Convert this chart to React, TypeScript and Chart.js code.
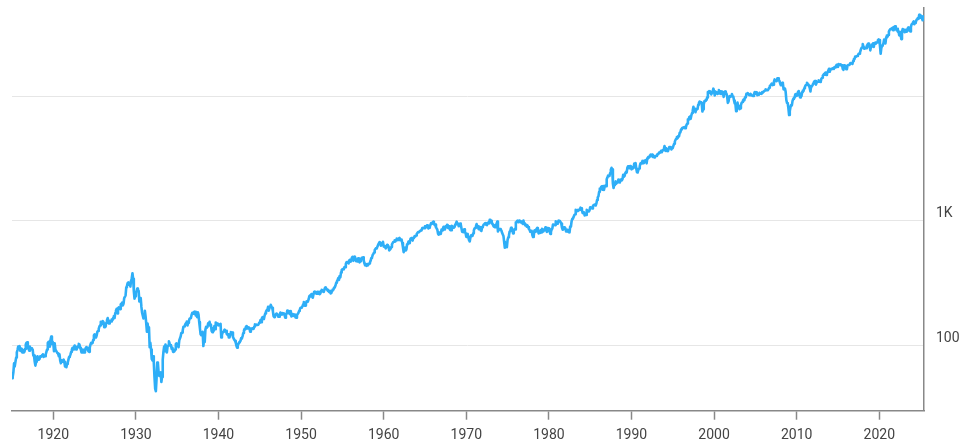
import React, { useEffect, useRef } from "react";
import { Chart, registerables } from "chart.js";

Chart.register(...registerables);

// Monthly closes, starting January 1915
const startYear = 1915;
const xTickYears = [1920, 1930, 1940, 1950, 1960, 1970, 1980, 1990, 2000, 2010, 2020];
const yTickValues = [100, 1000, 10000];
const yTickLabels = ["100", "1K", ""];

const dow1910s = [
  54.6, 56, 61, 72, 68, 74, 80, 88, 92, 98, 97, 99,
  90.6, 91.6, 94.5, 88, 91.8, 88, 89, 93.8, 102, 105, 105.9, 95,
  95, 91, 98, 93, 95, 94, 93, 83, 83, 74, 69, 74,
  79, 82, 77, 79, 78, 82, 81, 82, 84, 85, 81, 82,
  82, 85, 89, 93, 105, 107, 107, 98, 111, 118, 103, 107,
];
const dow1920s = [
  104, 90, 104, 93, 91, 91, 87, 86, 82, 85, 76, 72,
  76, 74, 75, 77, 74, 68, 68, 67, 71, 73, 77, 81,
  82, 85, 89, 93, 96, 93, 97, 100, 97, 93, 94, 98,
  97, 103, 102, 96, 93, 88, 88, 93, 88, 88, 92, 95,
  97, 96, 92, 90, 89, 96, 102, 105, 104, 105, 111, 121,
  123, 121, 116, 120, 129, 131, 136, 142, 145, 155, 148, 156,
  157, 154, 140, 143, 142, 152, 160, 166, 158, 150, 157, 157,
  156, 162, 160, 167, 172, 166, 182, 190, 197, 181, 198, 202,
  199, 196, 214, 216, 221, 210, 216, 240, 240, 252, 293, 300,
  317, 321, 308, 320, 297, 333, 347, 380, 343, 273, 238, 248,
];
const dow1930s = [
  267, 272, 286, 279, 275, 226, 233, 240, 204, 183, 183, 165,
  168, 190, 172, 151, 129, 150, 136, 140, 97, 105, 93, 78,
  76, 82, 73, 56, 45, 43, 54, 73, 72, 61, 57, 60,
  61, 51, 56, 77, 89, 98, 90, 102, 94, 88, 98, 100,
  108, 104, 101, 100, 94, 96, 89, 93, 90, 93, 103, 104,
  102, 101, 97, 110, 110, 118, 126, 127, 132, 141, 142, 144,
  149, 152, 156, 145, 152, 157, 164, 166, 167, 177, 183, 180,
  185, 187, 186, 174, 175, 169, 185, 177, 154, 138, 123, 121,
  121, 129, 99, 111, 107, 134, 141, 139, 141, 151, 149, 155,
  144, 147, 131, 128, 138, 131, 143, 135, 153, 151, 146, 150,
];
const dow1940s = [
  145, 147, 148, 149, 116, 122, 127, 129, 132, 134, 131, 131,
  124, 122, 123, 116, 116, 123, 128, 127, 127, 117, 114, 111,
  109, 106, 100, 96, 101, 103, 106, 107, 109, 115, 114, 119,
  126, 132, 136, 135, 142, 143, 137, 137, 140, 138, 129, 136,
  137, 136, 138, 136, 142, 148, 146, 147, 146, 146, 147, 152,
  153, 160, 154, 165, 169, 165, 163, 174, 181, 187, 192, 193,
  204, 190, 199, 206, 212, 205, 201, 189, 172, 169, 170, 177,
  180, 178, 177, 170, 170, 177, 184, 179, 177, 182, 179, 181,
  175, 167, 178, 180, 191, 189, 182, 181, 178, 189, 171, 177,
  179, 173, 177, 174, 168, 167, 175, 179, 182, 189, 193, 200,
];
const dow1950s = [
  201, 203, 206, 214, 223, 209, 209, 216, 226, 225, 227, 235,
  249, 252, 248, 259, 250, 242, 258, 270, 271, 262, 261, 269,
  270, 260, 270, 258, 262, 274, 280, 275, 271, 269, 283, 292,
  290, 284, 280, 274, 272, 268, 275, 262, 264, 276, 281, 281,
  292, 294, 303, 319, 327, 334, 347, 336, 361, 352, 386, 404,
  409, 412, 409, 426, 425, 451, 466, 468, 467, 455, 483, 488,
  471, 485, 511, 516, 478, 493, 518, 502, 475, 480, 473, 500,
  479, 465, 475, 494, 505, 503, 509, 484, 456, 441, 450, 436,
  450, 440, 447, 455, 463, 478, 503, 508, 532, 543, 558, 584,
  594, 604, 602, 624, 644, 644, 675, 664, 632, 646, 659, 679,
];
const dow1960s = [
  622, 630, 617, 602, 626, 641, 617, 626, 580, 580, 597, 616,
  648, 662, 677, 679, 697, 684, 705, 720, 701, 704, 722, 731,
  700, 708, 707, 665, 614, 561, 597, 609, 579, 590, 649, 652,
  683, 663, 683, 718, 727, 707, 695, 730, 733, 755, 751, 763,
  786, 800, 814, 811, 821, 832, 841, 839, 875, 873, 875, 874,
  903, 904, 889, 922, 918, 868, 882, 893, 931, 961, 947, 969,
  984, 952, 925, 934, 885, 870, 847, 788, 774, 807, 792, 786,
  850, 839, 866, 897, 853, 860, 904, 901, 927, 880, 876, 905,
  856, 841, 840, 912, 899, 898, 883, 896, 936, 952, 985, 944,
  946, 905, 936, 950, 937, 873, 816, 837, 813, 856, 812, 800,
];
const dow1970s = [
  744, 778, 786, 736, 700, 684, 734, 765, 761, 756, 794, 839,
  869, 879, 904, 942, 908, 891, 858, 898, 887, 839, 831, 890,
  902, 928, 941, 954, 961, 929, 925, 964, 953, 956, 1018, 1020,
  999, 955, 951, 921, 901, 892, 926, 888, 947, 987, 822, 851,
  856, 861, 847, 837, 802, 802, 757, 679, 608, 666, 619, 616,
  704, 739, 768, 821, 832, 879, 832, 835, 794, 836, 860, 852,
  975, 973, 1000, 997, 975, 1003, 985, 974, 990, 965, 947, 1005,
  954, 936, 919, 927, 899, 916, 890, 862, 847, 818, 830, 831,
  770, 742, 757, 837, 841, 819, 862, 877, 866, 793, 799, 805,
  839, 809, 862, 855, 822, 842, 846, 888, 879, 816, 822, 839,
];
const dow1980s = [
  876, 863, 786, 817, 851, 868, 935, 933, 932, 925, 993, 964,
  947, 975, 1004, 998, 992, 977, 953, 882, 850, 853, 889, 875,
  872, 824, 823, 848, 820, 812, 809, 901, 896, 992, 1039, 1047,
  1076, 1113, 1130, 1226, 1200, 1222, 1199, 1216, 1233, 1225, 1276, 1259,
  1221, 1155, 1165, 1171, 1105, 1132, 1115, 1224, 1207, 1207, 1189, 1212,
  1287, 1284, 1267, 1258, 1315, 1336, 1348, 1334, 1329, 1375, 1472, 1547,
  1571, 1709, 1819, 1784, 1877, 1893, 1775, 1898, 1768, 1878, 1914, 1896,
  2158, 2224, 2305, 2286, 2292, 2419, 2572, 2663, 2596, 1994, 1834, 1939,
  1958, 2072, 1988, 2032, 2031, 2142, 2129, 2032, 2113, 2149, 2115, 2169,
  2342, 2258, 2294, 2419, 2480, 2440, 2661, 2737, 2693, 2645, 2748, 2753,
];
const dow1990s = [
  2591, 2627, 2707, 2657, 2877, 2881, 2905, 2614, 2453, 2442, 2560, 2634,
  2736, 2882, 2914, 2888, 3028, 2907, 3025, 3044, 3017, 3069, 2895, 3169,
  3224, 3268, 3236, 3359, 3397, 3319, 3394, 3257, 3272, 3226, 3306, 3301,
  3310, 3371, 3435, 3428, 3527, 3516, 3540, 3651, 3555, 3681, 3684, 3754,
  3978, 3833, 3636, 3682, 3758, 3625, 3765, 3913, 3843, 3908, 3739, 3834,
  3844, 4011, 4158, 4321, 4465, 4556, 4709, 4611, 4789, 4756, 5075, 5117,
  5395, 5486, 5587, 5569, 5643, 5655, 5529, 5616, 5882, 6029, 6522, 6448,
  6813, 6878, 6584, 7009, 7331, 7673, 8223, 7622, 7945, 7442, 7823, 7908,
  7907, 8546, 8800, 9063, 8900, 8952, 8883, 7539, 7843, 8592, 9117, 9181,
  9359, 9307, 9786, 10789, 10560, 10971, 10655, 10829, 10337, 10730, 10878, 11497,
];
const dow2000s = [
  10941, 10128, 10922, 10734, 10522, 10448, 10522, 11215, 10651, 10971, 10415, 10787,
  10887, 10495, 9879, 10735, 10912, 10502, 10523, 9950, 8848, 9075, 9852, 10022,
  9920, 10106, 10404, 9946, 9925, 9243, 8737, 8664, 7592, 8397, 8896, 8342,
  8054, 7891, 7992, 8480, 8850, 8985, 9234, 9416, 9275, 9801, 9782, 10454,
  10488, 10584, 10358, 10226, 10188, 10435, 10140, 10174, 10080, 10027, 10428, 10783,
  10490, 10766, 10504, 10193, 10467, 10275, 10641, 10482, 10569, 10440, 10806, 10718,
  10865, 10993, 11109, 11367, 11168, 11150, 11186, 11381, 11679, 12081, 12222, 12463,
  12622, 12269, 12354, 13063, 13628, 13409, 13212, 13358, 13896, 13930, 13372, 13265,
  12650, 12266, 12263, 12820, 12638, 11350, 11378, 11544, 10851, 9325, 8829, 8776,
  8001, 7063, 7609, 8168, 8500, 8447, 9172, 9496, 9712, 9713, 10345, 10428,
];
const dow2010s = [
  10067, 10325, 10857, 11009, 10137, 9774, 10466, 10015, 10788, 11118, 11006, 11578,
  11892, 12226, 12320, 12811, 12570, 12414, 12143, 11614, 10913, 11955, 12046, 12218,
  12633, 12952, 13212, 13214, 12393, 12880, 13009, 13091, 13437, 13096, 13026, 13104,
  13861, 14054, 14579, 14840, 15116, 14910, 15500, 14810, 15130, 15546, 16086, 16577,
  15699, 16322, 16458, 16581, 16717, 16827, 16563, 17098, 17043, 17391, 17828, 17823,
  17165, 18133, 17776, 17841, 18011, 17620, 17690, 16528, 16285, 17664, 17720, 17425,
  16466, 16517, 17685, 17774, 17787, 17930, 18432, 18401, 18308, 18142, 19124, 19763,
  19864, 20812, 20663, 20941, 21009, 21350, 21891, 21948, 22405, 23377, 24272, 24719,
  26149, 25029, 24103, 24163, 24416, 24271, 25415, 25965, 26458, 25116, 25538, 23327,
  24999, 25916, 25929, 26593, 24815, 26600, 26864, 26403, 26917, 27046, 28051, 28538,
];
const dow2020s = [
  28256, 25409, 21917, 24346, 25383, 25813, 26428, 28430, 27782, 26502, 29639, 30606,
  29983, 30932, 32982, 33875, 34529, 34503, 34935, 35361, 33844, 35820, 34484, 36338,
  35132, 33893, 34678, 32977, 32990, 30775, 32845, 31510, 28726, 32733, 34590, 33147,
  34086, 32657, 33274, 34098, 32908, 34408, 35560, 34722, 33508, 33053, 35951, 37690,
  38150, 38996, 39807, 37816, 38686, 39119, 40843, 41563, 42330, 41763, 44911, 42544,
  44545, 43841, 42002, 40669, 42270, 43800,
];

const FONT = { family: "Roboto, 'Noto Sans', sans-serif", size: 14 };

export default function App() {
  const ref = useRef<HTMLCanvasElement>(null);

  useEffect(() => {
    const values = [
      ...dow1910s, ...dow1920s, ...dow1930s, ...dow1940s, ...dow1950s,
      ...dow1960s, ...dow1970s, ...dow1980s, ...dow1990s, ...dow2000s,
      ...dow2010s, ...dow2020s,
    ];
    const points = values.map((v, i) => ({ x: startYear + i / 12, y: v }));
    const lastX = points[points.length - 1].x;

    const chart = new Chart(ref.current as HTMLCanvasElement, {
      type: "line",
      data: {
        datasets: [
          {
            data: points,
            borderColor: "#2eaef7",
            borderWidth: 2.6,
            borderJoinStyle: "round",
            borderCapStyle: "round",
            pointRadius: 0,
            pointHoverRadius: 0,
            fill: false,
            tension: 0,
          },
        ],
      },
      options: {
        animation: false,
        responsive: true,
        maintainAspectRatio: false,
        layout: { padding: { left: 12, top: 8, right: 0, bottom: 0 } },
        plugins: {
          legend: { display: false },
          tooltip: { enabled: false },
        },
        scales: {
          x: {
            type: "linear",
            position: "bottom",
            min: startYear,
            max: lastX,
            afterBuildTicks: (s: any) => {
              s.ticks = xTickYears.map((v) => ({ value: v }));
            },
            afterFit: (s: any) => {
              s.height = 35.3;
              s.paddingLeft = 0;
              s.paddingRight = 0;
            },
            ticks: {
              autoSkip: false,
              maxRotation: 0,
              padding: 7,
              color: "#444",
              font: FONT,
              callback: (v: any) => String(v),
            },
            grid: {
              display: true,
              drawOnChartArea: false,
              drawTicks: true,
              tickLength: 9,
              tickColor: "#888",
              tickWidth: 1.5,
            },
            border: { display: true, color: "#888", width: 1.5 },
          },
          y: {
            type: "logarithmic",
            position: "right",
            min: 30,
            max: 51000,
            afterBuildTicks: (s: any) => {
              s.ticks = yTickValues.map((v) => ({ value: v }));
            },
            afterFit: (s: any) => {
              s.width = 41;
              s.paddingTop = 0;
              s.paddingBottom = 0;
            },
            ticks: {
              autoSkip: false,
              padding: 12,
              labelOffset: -7,
              color: "#444",
              font: FONT,
              callback: (_v: any, i: number) => yTickLabels[i],
            },
            grid: {
              color: "#e6e6e6",
              lineWidth: 1,
              drawTicks: false,
            },
            border: { display: true, color: "#888", width: 1.5 },
          },
        },
      },
    });
    return () => chart.destroy();
  }, []);

  return (
    <div style={{ position: "fixed", left: 0, top: 0, width: 965, height: 446, background: "#fff" }}>
      <canvas ref={ref} />
    </div>
  );
}
